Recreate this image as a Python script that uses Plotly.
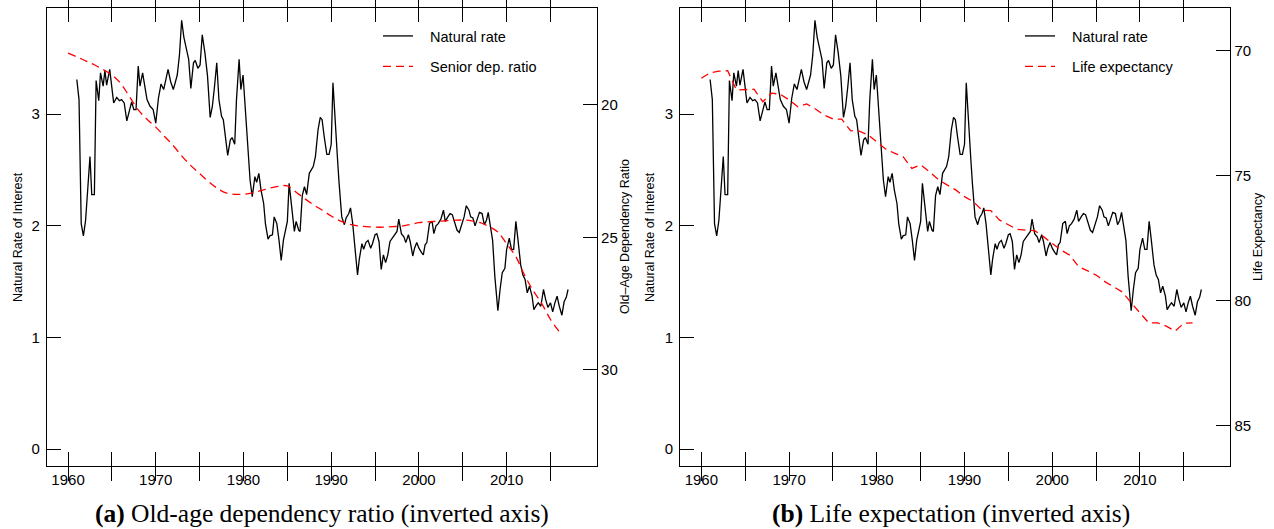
import plotly.graph_objects as go

# ---------------- data ----------------
nr_year = [1961.0, 1961.25, 1961.5, 1961.75, 1962.0, 1962.3, 1962.5, 1962.7, 1963.0, 1963.2,
           1963.5, 1963.7, 1964.0, 1964.2, 1964.4, 1964.75, 1965.0, 1965.2, 1965.55, 1965.85,
           1966.1, 1966.4, 1966.7, 1967.0, 1967.25, 1967.5, 1967.75, 1968.0, 1968.2, 1968.5,
           1968.8, 1969.0, 1969.35, 1969.7, 1970.0, 1970.3, 1970.6, 1970.9, 1971.4, 1971.7,
           1972.0, 1972.45, 1972.7, 1972.95, 1973.2, 1973.5, 1973.75, 1974.0, 1974.3, 1974.5,
           1974.8, 1975.05, 1975.3, 1975.6, 1975.9, 1976.2, 1976.45, 1976.7, 1976.95, 1977.2,
           1977.5, 1977.7, 1978.0, 1978.2, 1978.5, 1978.7, 1979.0, 1979.2, 1979.5, 1979.7,
           1979.95, 1980.2, 1980.5, 1980.75, 1981.0, 1981.3, 1981.5, 1981.75, 1982.0, 1982.3,
           1982.5, 1982.8, 1983.0, 1983.3, 1983.5, 1983.8, 1984.05, 1984.3, 1984.55, 1984.85,
           1985.0, 1985.2, 1985.5, 1985.8, 1986.0, 1986.3, 1986.45, 1986.7, 1986.95, 1987.2,
           1987.5, 1987.7, 1987.95, 1988.2, 1988.5, 1988.75, 1988.96, 1989.2, 1989.5, 1989.76,
           1990.0, 1990.2, 1990.45, 1990.7, 1990.9, 1991.2, 1991.5, 1991.7, 1992.0, 1992.2,
           1992.45, 1992.7, 1993.0, 1993.2, 1993.5, 1993.7, 1993.95, 1994.2, 1994.5, 1994.7,
           1995.0, 1995.2, 1995.45, 1995.7, 1995.95, 1996.2, 1996.45, 1996.7, 1997.0, 1997.2,
           1997.5, 1997.7, 1998.0, 1998.3, 1998.5, 1998.8, 1999.0, 1999.3, 1999.5, 1999.75,
           2000.0, 2000.3, 2000.5, 2000.7, 2000.9, 2001.2, 2001.5, 2001.7, 2001.95, 2002.2,
           2002.5, 2002.8, 2003.0, 2003.3, 2003.55, 2003.8, 2004.1, 2004.35, 2004.6, 2004.9,
           2005.15, 2005.4, 2005.7, 2005.9, 2006.15, 2006.4, 2006.7, 2006.9, 2007.2, 2007.45,
           2007.7, 2007.9, 2008.1, 2008.4, 2008.65, 2009.0, 2009.25, 2009.5, 2009.8, 2010.0,
           2010.3, 2010.55, 2010.8, 2011.05, 2011.3, 2011.6, 2011.85, 2012.1, 2012.35, 2012.6,
           2012.9, 2013.1, 2013.4, 2013.6, 2013.9, 2014.2, 2014.45, 2014.7, 2015.0, 2015.25,
           2015.5, 2015.75, 2016.0, 2016.3, 2016.55, 2016.8, 2017.0]
natural_rate = [3.31, 3.13, 2.02, 1.91, 2.05, 2.38, 2.62, 2.28, 2.28, 3.30,
                3.12, 3.37, 3.25, 3.39, 3.26, 3.40, 3.22, 3.10, 3.15, 3.12,
                3.13, 3.10, 2.94, 3.04, 3.11, 3.04, 3.04, 3.43, 3.25, 3.37,
                3.23, 3.13, 3.07, 3.04, 2.92, 3.14, 3.27, 3.22, 3.40, 3.29,
                3.22, 3.35, 3.53, 3.84, 3.69, 3.58, 3.49, 3.23, 3.46, 3.48,
                3.41, 3.44, 3.71, 3.55, 3.34, 2.97, 3.07, 3.25, 3.46, 3.13,
                2.98, 2.95, 2.75, 2.63, 2.77, 2.79, 2.73, 3.13, 3.49, 3.22,
                3.35, 3.05, 2.74, 2.41, 2.26, 2.44, 2.39, 2.47, 2.32, 2.20,
                2.02, 1.88, 1.91, 1.92, 2.08, 2.02, 1.87, 1.69, 1.87, 2.01,
                2.04, 2.38, 2.14, 1.95, 2.04, 1.96, 1.95, 2.27, 2.35, 2.28,
                2.47, 2.50, 2.53, 2.62, 2.86, 2.97, 2.95, 2.80, 2.64, 2.64,
                2.73, 3.28, 2.89, 2.62, 2.38, 2.08, 2.01, 2.07, 2.11, 2.16,
                2.02, 1.81, 1.56, 1.70, 1.84, 1.79, 1.85, 1.87, 1.80, 1.84,
                1.92, 1.93, 1.86, 1.61, 1.74, 1.67, 1.74, 1.86, 1.89, 1.91,
                1.95, 2.06, 1.93, 1.90, 1.85, 1.92, 1.86, 1.73, 1.80, 1.85,
                1.80, 1.76, 1.74, 1.83, 1.85, 2.02, 2.04, 1.93, 2.00, 2.02,
                2.06, 2.14, 2.04, 2.08, 2.11, 2.10, 2.02, 1.96, 1.94, 2.01,
                2.08, 2.18, 2.14, 2.08, 2.07, 2.00, 2.07, 2.12, 2.11, 2.01,
                2.05, 2.12, 2.02, 1.87, 1.55, 1.24, 1.43, 1.58, 1.62, 1.79,
                1.89, 1.79, 1.79, 2.04, 1.87, 1.65, 1.56, 1.52, 1.40, 1.46,
                1.37, 1.25, 1.29, 1.31, 1.28, 1.43, 1.34, 1.27, 1.31, 1.23,
                1.31, 1.37, 1.28, 1.20, 1.32, 1.36, 1.43]

dep_year = list(range(1960, 2017))
dep_ratio = [18.06, 18.20, 18.35, 18.50, 18.68, 18.88, 19.20, 19.70, 20.20, 20.55,
             20.85, 21.20, 21.55, 21.95, 22.30, 22.60, 22.90, 23.15, 23.33, 23.38,
             23.38, 23.33, 23.24, 23.15, 23.08, 23.06, 23.30, 23.55, 23.78, 23.98,
             24.20, 24.38, 24.50, 24.57, 24.60, 24.62, 24.62, 24.60, 24.58, 24.52,
             24.45, 24.42, 24.40, 24.38, 24.36, 24.35, 24.38, 24.45, 24.60, 24.80,
             25.25, 25.70, 26.40, 27.00, 27.50, 28.10, 28.56]

le_year = list(range(1960, 2017))
life_exp = [71.09, 70.87, 70.81, 70.79, 71.56, 71.53, 71.53, 72.03, 71.69, 71.73,
            71.96, 72.23, 72.12, 72.32, 72.56, 72.72, 72.73, 73.19, 73.21, 73.36,
            73.63, 73.92, 74.09, 74.23, 74.70, 74.56, 74.83, 75.14, 75.36, 75.56,
            75.83, 76.03, 76.37, 76.39, 76.77, 76.97, 77.14, 77.17, 77.19, 77.43,
            77.70, 77.97, 78.17, 78.63, 78.79, 78.97, 79.23, 79.43, 79.65, 80.08,
            80.48, 80.88, 80.88, 81.01, 81.21, 80.90, 80.88]

year_ticks = [1960, 1965, 1970, 1975, 1980, 1985, 1990, 1995, 2000, 2005, 2010, 2015]
year_labels = [str(y) if y % 10 == 0 else "" for y in year_ticks]
nr_ticks = [0, 1, 2, 3]
dep_ticks = [20, 25, 30]
le_ticks = [70, 75, 80, 85]

# ---------------- figure ----------------
W, H = 1274, 529
SANS = "Liberation Sans, Arial, Helvetica, sans-serif"
SERIF = "Liberation Serif, Times New Roman, serif"
PAD = "\u00a0\u00a0\u00a0"   # widen the gap between legend sample and text

fig = go.Figure()
blk = dict(color="black", width=1.3)
red = dict(color="#ff0000", width=1.3, dash="8px,5px")

fig.add_trace(go.Scatter(x=nr_year, y=natural_rate, mode="lines", line=blk,
                         name=PAD + "Natural rate", xaxis="x", yaxis="y",
                         legend="legend", legendgroup="a1"))
fig.add_trace(go.Scatter(x=dep_year, y=dep_ratio, mode="lines",
                         line=dict(red, shape="spline"),
                         name=PAD + "Senior dep. ratio", xaxis="x", yaxis="y2",
                         legend="legend", legendgroup="a2"))
fig.add_trace(go.Scatter(x=nr_year, y=natural_rate, mode="lines", line=blk,
                         name=PAD + "Natural rate", xaxis="x2", yaxis="y3",
                         legend="legend2", legendgroup="b1"))
fig.add_trace(go.Scatter(x=le_year, y=life_exp, mode="lines", line=red,
                         name=PAD + "Life expectancy", xaxis="x2", yaxis="y4",
                         legend="legend2", legendgroup="b2"))

ydom = [1 - 466 / H, 1 - 8 / H]
xdomA = [47 / W, 597 / W]
xdomB = [680.3 / W, 1230.3 / W]

tickfont = dict(family=SANS, size=15, color="black")
common = dict(showline=True, linecolor="black", linewidth=1.2, ticks="inside",
              ticklen=14, tickwidth=1, tickcolor="black", showgrid=False,
              zeroline=False, tickfont=tickfont)

def xax(dom, anchor):
    return dict(common, domain=dom, anchor=anchor, range=[1957.6, 2020.3],
                tickmode="array", tickvals=year_ticks, ticktext=year_labels,
                mirror="allticks")

fig.update_layout(
    width=W, height=H,
    margin=dict(l=0, r=0, t=0, b=0),
    paper_bgcolor="white", plot_bgcolor="white",
    font=dict(family=SANS, color="black"),
    xaxis=xax(xdomA, "y"),
    xaxis2=xax(xdomB, "y3"),
    yaxis=dict(common, domain=ydom, anchor="x", range=[-0.15, 3.95],
               tickmode="array", tickvals=nr_ticks, ticklabelstandoff=3),
    yaxis2=dict(common, overlaying="y", side="right", anchor="x",
                range=[33.62, 16.36], tickmode="array", tickvals=dep_ticks),
    yaxis3=dict(common, domain=ydom, anchor="x2", range=[-0.15, 3.95],
                tickmode="array", tickvals=nr_ticks, ticklabelstandoff=3),
    yaxis4=dict(common, overlaying="y3", side="right", anchor="x2",
                range=[86.61, 68.28], tickmode="array", tickvals=le_ticks),
    legend=dict(x=378 / W, y=1 - 20 / H, xanchor="left", yanchor="top",
                bgcolor="rgba(0,0,0,0)", font=dict(family=SANS, size=14.5),
                tracegroupgap=8.5),
    legend2=dict(x=1020 / W, y=1 - 20 / H, xanchor="left", yanchor="top",
                 bgcolor="rgba(0,0,0,0)", font=dict(family=SANS, size=14.5),
                 tracegroupgap=8.5),
    showlegend=True,
)

def vtitle(text, x):
    fig.add_annotation(text=text, x=x / W, y=1 - 237 / H, xref="paper", yref="paper",
                       showarrow=False, textangle=-90, xanchor="center", yanchor="middle",
                       font=dict(family=SANS, size=12.5, color="black"))

vtitle("Natural Rate of Interest", 18)
vtitle("Old\u2013Age Dependency Ratio", 625)
vtitle("Natural Rate of Interest", 650)
vtitle("Life Expectancy", 1258)

def caption(label, text, xc):
    fig.add_annotation(text="<b>" + label + "</b> " + text, x=xc / W, y=1 - 513 / H,
                       xref="paper", yref="paper", showarrow=False,
                       xanchor="center", yanchor="middle",
                       font=dict(family=SERIF, size=25.5, color="black"))

caption("(a)", "Old-age dependency ratio (inverted axis)", 321.5)
caption("(b)", "Life expectation (inverted axis)", 951)

fig.write_html("out.html")
